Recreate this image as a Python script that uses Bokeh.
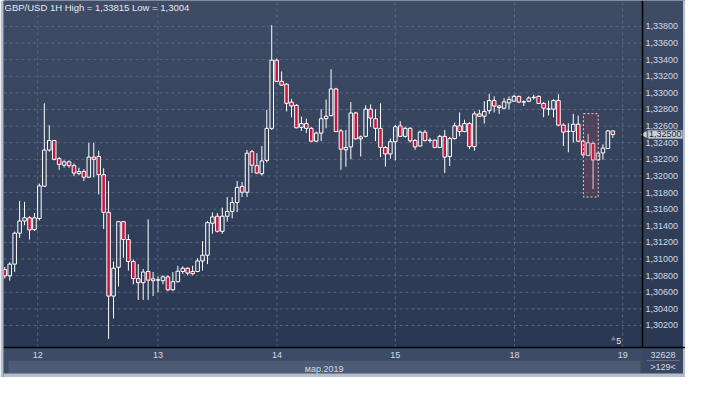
import numpy as np
from bokeh.plotting import figure
from bokeh.models import (Range1d, LinearAxis, FixedTicker, CustomJSTickFormatter,
                          Label, ColumnDataSource, BoxAnnotation)
from bokeh.embed import file_html
from bokeh.resources import INLINE

# ---------------- data (GBP/USD 1H) ----------------
open_ = [1.30873, 1.30797, 1.30939, 1.31311, 1.31458, 1.31496, 1.31354, 1.31489, 1.31877, 1.32312,
         1.32427, 1.32208, 1.32130, 1.32170, 1.32124, 1.32031, 1.32054, 1.31985, 1.32227, 1.32234,
         1.32015, 1.31562, 1.30554, 1.30900, 1.31450, 1.31235, 1.30970, 1.30765, 1.30716, 1.30850,
         1.30762, 1.30746, 1.30739, 1.30785, 1.30630, 1.30727, 1.30850, 1.30889, 1.30850, 1.30850,
         1.30977, 1.31046, 1.31431, 1.31515, 1.31334, 1.31515, 1.31573, 1.31680, 1.31873, 1.31804,
         1.32292, 1.32124, 1.32027, 1.32188, 1.32573, 1.33393, 1.33139, 1.33104, 1.32889, 1.32850,
         1.32585, 1.32631, 1.32573, 1.32419, 1.32516, 1.32689, 1.32727, 1.33047, 1.32542, 1.32315,
         1.32350, 1.32758, 1.32447, 1.32477, 1.32804, 1.32689, 1.32573, 1.32343, 1.32265, 1.32412,
         1.32603, 1.32477, 1.32573, 1.32427, 1.32361, 1.32527, 1.32427, 1.32431, 1.32343, 1.32477,
         1.32234, 1.32450, 1.32603, 1.32534, 1.32631, 1.32354, 1.32747, 1.32719, 1.32785, 1.32908,
         1.32842, 1.32816, 1.32880, 1.32900, 1.32958, 1.32889, 1.32900, 1.32943, 1.32958, 1.32873,
         1.32804, 1.32804, 1.32908, 1.32612, 1.32535, 1.32535, 1.32623, 1.32419, 1.32246, 1.32392,
         1.32193, 1.32277, 1.32331, 1.32542]
high = [1.30904, 1.30962, 1.31331, 1.31700, 1.31689, 1.31515, 1.31554, 1.31908, 1.32874, 1.32612,
        1.32433, 1.32227, 1.32188, 1.32188, 1.32150, 1.32100, 1.32081, 1.32400, 1.32400, 1.32304,
        1.32092, 1.31939, 1.30970, 1.31458, 1.31458, 1.31296, 1.30996, 1.30939, 1.30881, 1.31477,
        1.30843, 1.30792, 1.30804, 1.30804, 1.30843, 1.30919, 1.30912, 1.30900, 1.30919, 1.31008,
        1.31215, 1.31458, 1.31562, 1.31554, 1.31619, 1.31746, 1.31746, 1.31939, 1.31927, 1.32312,
        1.32312, 1.32274, 1.32361, 1.32796, 1.33815, 1.33411, 1.33258, 1.33119, 1.32927, 1.32865,
        1.32715, 1.32689, 1.32588, 1.32535, 1.32804, 1.32920, 1.33284, 1.33061, 1.32565, 1.32554,
        1.32889, 1.32773, 1.32488, 1.32850, 1.32862, 1.32804, 1.32874, 1.32358, 1.32450, 1.32612,
        1.32658, 1.32594, 1.32588, 1.32444, 1.32546, 1.32554, 1.32458, 1.32438, 1.32496, 1.32554,
        1.32470, 1.32643, 1.32765, 1.32677, 1.32646, 1.32777, 1.32793, 1.32900, 1.32989, 1.32958,
        1.32854, 1.32938, 1.32958, 1.32977, 1.32966, 1.32908, 1.32958, 1.32977, 1.32969, 1.32889,
        1.32908, 1.32923, 1.32985, 1.32635, 1.32635, 1.32747, 1.32727, 1.32438, 1.32504, 1.32415,
        1.32288, 1.32381, 1.32554, 1.32548]
low = [1.30765, 1.30739, 1.30846, 1.31254, 1.31408, 1.31235, 1.31337, 1.31466, 1.31867, 1.32292,
       1.32188, 1.32073, 1.32100, 1.32100, 1.31997, 1.32008, 1.31939, 1.31977, 1.31985, 1.31777,
       1.31362, 1.30040, 1.30284, 1.30670, 1.31016, 1.30861, 1.30696, 1.30508, 1.30508, 1.30508,
       1.30554, 1.30600, 1.30696, 1.30615, 1.30620, 1.30719, 1.30823, 1.30804, 1.30804, 1.30841,
       1.30861, 1.30939, 1.31304, 1.31319, 1.31304, 1.31450, 1.31489, 1.31565, 1.31746, 1.31746,
       1.32035, 1.32027, 1.32004, 1.32162, 1.32554, 1.33131, 1.33085, 1.32777, 1.32707, 1.32573,
       1.32542, 1.32516, 1.32407, 1.32407, 1.32419, 1.32573, 1.32715, 1.32527, 1.32073, 1.32112,
       1.32200, 1.32438, 1.32234, 1.32465, 1.32592, 1.32419, 1.32227, 1.32112, 1.32208, 1.32188,
       1.32468, 1.32462, 1.32400, 1.32315, 1.32352, 1.32415, 1.32400, 1.32335, 1.32335, 1.32035,
       1.32119, 1.32438, 1.32477, 1.32525, 1.32323, 1.32304, 1.32710, 1.32631, 1.32747, 1.32765,
       1.32747, 1.32804, 1.32804, 1.32892, 1.32877, 1.32842, 1.32889, 1.32920, 1.32865, 1.32707,
       1.32727, 1.32707, 1.32600, 1.32361, 1.32285, 1.32400, 1.32404, 1.32242, 1.32237, 1.31842,
       1.32185, 1.32196, 1.32323, 1.32458]
close = [1.30797, 1.30939, 1.31311, 1.31458, 1.31496, 1.31350, 1.31496, 1.31881, 1.32312, 1.32427,
         1.32200, 1.32139, 1.32170, 1.32124, 1.32035, 1.32054, 1.31985, 1.32227, 1.32200, 1.32015,
         1.31562, 1.30554, 1.30889, 1.31450, 1.31235, 1.30970, 1.30765, 1.30716, 1.30843, 1.30746,
         1.30739, 1.30750, 1.30785, 1.30630, 1.30727, 1.30854, 1.30889, 1.30831, 1.30823, 1.30977,
         1.31046, 1.31438, 1.31507, 1.31334, 1.31515, 1.31573, 1.31680, 1.31862, 1.31804, 1.32274,
         1.32130, 1.32035, 1.32181, 1.32573, 1.33393, 1.33139, 1.33093, 1.32874, 1.32842, 1.32580,
         1.32631, 1.32573, 1.32419, 1.32516, 1.32689, 1.32719, 1.33047, 1.32534, 1.32323, 1.32343,
         1.32758, 1.32447, 1.32470, 1.32804, 1.32696, 1.32573, 1.32343, 1.32265, 1.32412, 1.32592,
         1.32477, 1.32573, 1.32424, 1.32350, 1.32527, 1.32427, 1.32430, 1.32343, 1.32477, 1.32227,
         1.32450, 1.32603, 1.32534, 1.32631, 1.32354, 1.32747, 1.32719, 1.32777, 1.32908, 1.32842,
         1.32823, 1.32892, 1.32920, 1.32958, 1.32889, 1.32893, 1.32938, 1.32948, 1.32873, 1.32816,
         1.32808, 1.32908, 1.32612, 1.32527, 1.32538, 1.32623, 1.32419, 1.32254, 1.32400, 1.32193,
         1.32274, 1.32335, 1.32542, 1.32500]

day_ticks = [6.66, 30.97, 55.08, 78.99, 103.1, 125.0]
day_labels = ["12", "13", "14", "15", "18", "19"]
month_tick = [64.6]
month_label = ["мар.2019"]
price_ticks = [1.302, 1.304, 1.306, 1.308, 1.310, 1.312, 1.314, 1.316, 1.318, 1.320,
               1.322, 1.324, 1.326, 1.328, 1.330, 1.332, 1.334, 1.336, 1.338]
title_text = "GBP/USD 1H High = 1,33815 Low = 1,3004"
last_price = 1.32500
last_price_text = "1,32500"
sel_left, sel_right, sel_top, sel_bottom = 117.05, 120.05, 1.32750, 1.31746
corner_top_text = "32628"
corner_bottom_text = ">129<"
countdown_text = "5"

# ---------------- layout (data-space frame that also holds the side panels) ----------------
FONT = "Liberation Sans"
TXT = "#d3d9e4"
X0, X1, XE = -0.26, 129.0, 137.70      # plot left, plot right (price axis), canvas right
Y0, Y1, YE = 1.29935, 1.34112, 1.29574  # plot bottom (time axis), plot top, canvas bottom
PXX = 4.9435      # px per candle
PXY = 8307.4      # px per price unit

def ypx(n):
    return Y0 - n / PXY

def xpx(n):
    return X1 + n / PXX

p = figure(width=685, height=377, output_backend="svg", toolbar_location=None,
           x_range=Range1d(X0, XE), y_range=Range1d(YE, Y1),
           y_axis_location="right", min_border_left=3, min_border_right=0,
           min_border_top=0, min_border_bottom=0)
p.border_fill_color = "#b4bfcd"
p.outline_line_color = None
p.background_fill_color = "#3a4762"
p.xgrid.visible = False
p.ygrid.visible = False

# gradient background (plot + price panel)
N = 64
t = np.linspace(0, 1, N)
ctop = np.array([63, 76, 102]); cbot = np.array([43, 56, 83])
cols = (cbot[None, :] * (1 - t[:, None]) + ctop[None, :] * t[:, None]).astype(np.uint8)
img = np.empty((N, 1), dtype=np.uint32)
view = img.view(dtype=np.uint8).reshape((N, 1, 4))
view[:, 0, 0] = cols[:, 0]; view[:, 0, 1] = cols[:, 1]; view[:, 0, 2] = cols[:, 2]; view[:, 0, 3] = 255
p.image_rgba(image=[img], x=X0, y=Y0, dw=XE - X0, dh=Y1 - Y0, level="image")

# bottom bands and frame edges
def band(l, r, b, tp, col, lvl="underlay"):
    p.add_layout(BoxAnnotation(left=l, right=r, bottom=b, top=tp, fill_color=col, fill_alpha=1,
                               line_color=None, level=lvl))

band(X0, X1, ypx(26), Y0, "#3e4b66")              # time-label band
band(X0 + 1.0, X1 - 0.45, ypx(26), ypx(13.3), "#4d5b75")  # month band
band(X1, XE, ypx(26), Y0, "#3a4762")              # corner cell
band(xpx(4.5), xpx(37), ypx(13.6), ypx(12.9), "#8791a3")  # corner separator
band(X0, XE, YE, ypx(26), "#b4bfcd")              # bottom edge
band(xpx(40.5), XE, YE, Y1, "#b4bfcd")            # right edge

# grid lines (dashed) from the tick arrays
p.segment(x0=[X0] * len(price_ticks), x1=[X1] * len(price_ticks), y0=price_ticks, y1=price_ticks,
          line_color="#5a6781", line_dash="3 3", line_width=1)
p.segment(x0=day_ticks, x1=day_ticks, y0=[Y0] * len(day_ticks), y1=[Y1] * len(day_ticks),
          line_color="#5a6781", line_dash="3 3", line_width=1)

# axes (fixed inside the frame)
ya = p.yaxis[0]
ya.fixed_location = X1
ya.bounds = (Y0, Y1)
ya.ticker = FixedTicker(ticks=price_ticks)
ya.formatter = CustomJSTickFormatter(code="return tick.toFixed(5).replace('.', ',');")
ya.axis_line_color = "black"
ya.axis_line_width = 1.5
ya.major_tick_out = 0
ya.major_tick_in = 0
ya.minor_tick_out = 0
ya.minor_tick_in = 0
ya.major_label_standoff = 3
ya.major_label_text_font = FONT
ya.major_label_text_font_size = "9px"
ya.major_label_text_color = TXT

xa = p.xaxis[0]
xa.fixed_location = Y0
xa.ticker = FixedTicker(ticks=day_ticks)
xa.major_label_overrides = {k: v for k, v in zip(day_ticks, day_labels)}
xa.axis_line_color = "black"
xa.axis_line_width = 1.5
xa.major_tick_out = 0
xa.major_tick_in = 0
xa.minor_tick_out = 0
xa.minor_tick_in = 0
xa.major_label_standoff = 4
xa.major_label_text_font = FONT
xa.major_label_text_font_size = "9px"
xa.major_label_text_color = TXT

xa2 = LinearAxis(ticker=FixedTicker(ticks=month_tick), fixed_location=ypx(13.3),
                 major_label_overrides={k: v for k, v in zip(month_tick, month_label)})
xa2.axis_line_color = None
xa2.major_tick_out = 0
xa2.major_tick_in = 0
xa2.minor_tick_out = 0
xa2.minor_tick_in = 0
xa2.major_label_standoff = 3
xa2.major_label_text_font = FONT
xa2.major_label_text_font_size = "9px"
xa2.major_label_text_color = TXT
p.add_layout(xa2, "below")

# candles
idx = list(range(len(open_)))
body_top = [max(o, c) for o, c in zip(open_, close)]
body_bot = [min(o, c) for o, c in zip(open_, close)]
up = [c >= o for o, c in zip(open_, close)]
src = ColumnDataSource(dict(x=idx, o=open_, h=high, l=low, c=close, bt=body_top, bb=body_bot,
                            fill=["rgba(0,0,0,0)" if u else "#c8163c" for u in up]))
p.segment(x0="x", y0="bt", x1="x", y1="h", source=src, line_color="white", line_width=1)
p.segment(x0="x", y0="l", x1="x", y1="bb", source=src, line_color="white", line_width=1)
p.vbar(x="x", top="bt", bottom="bb", width=0.72, source=src,
       fill_color="fill", line_color="white", line_width=1)

# selection rectangle
p.quad(left=[sel_left], right=[sel_right], top=[sel_top], bottom=[sel_bottom],
       fill_color="#a03c50", fill_alpha=0.25, line_color="#dcd2da",
       line_dash="2 2", line_width=1)

# countdown marker
p.scatter(x=[123.1], y=[1.30040], marker="triangle", size=5,
          fill_color="#707b90", line_color=None)
p.add_layout(Label(x=124.2, y=1.30015, text=countdown_text, text_align="center",
                   text_baseline="middle", text_font=FONT, text_font_size="9px",
                   text_color="#e8ecf2"))

# title
p.add_layout(Label(x=-0.06, y=Y1 - 0.0002, text=title_text, text_baseline="top",
                   text_font=FONT, text_font_size="9.5px", text_color="#e6eaf1"))

# last price marker on the price axis
p.scatter(x=[X1 + 0.45], y=[last_price], marker="triangle", size=7, angle=np.pi / 2,
          fill_color="#c9ced7", line_color=None)
p.add_layout(Label(x=xpx(5.5), y=last_price, text=last_price_text, text_baseline="middle",
                   text_font=FONT, text_font_size="9px", text_color="#1d2532",
                   background_fill_color="#c9ced7", border_line_color="#8e97a7",
                   padding=1))

# bottom-right corner texts
p.add_layout(Label(x=xpx(20.5), y=ypx(7.0), text=corner_top_text, text_align="center",
                   text_baseline="middle", text_font=FONT, text_font_size="9px",
                   text_color=TXT))
p.add_layout(Label(x=xpx(20.5), y=ypx(19.3), text=corner_bottom_text, text_align="center",
                   text_baseline="middle", text_font=FONT, text_font_size="9px",
                   text_color=TXT))

open("out.html", "w").write(file_html(p, INLINE))
